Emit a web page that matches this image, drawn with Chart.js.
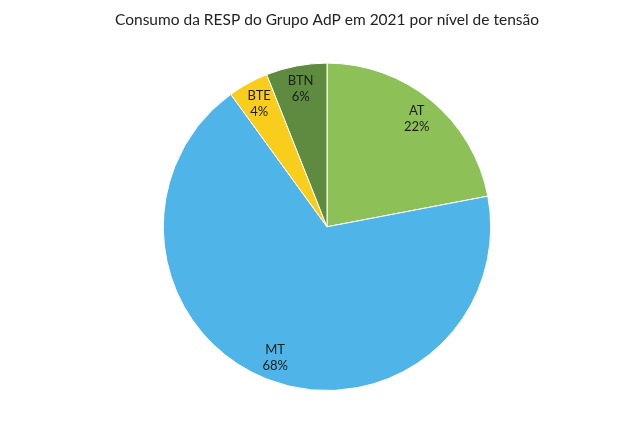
<!DOCTYPE html>
<html>
<head>
<meta charset="utf-8">
<script src="https://cdn.jsdelivr.net/npm/chart.js@4"></script>
<style>
  html, body { margin: 0; padding: 0; background: #fff; }
  #wrap { width: 643px; height: 425px; }
</style>
</head>
<body>
<div id="wrap"><canvas id="pie"></canvas></div>
<script>
// consumo por nível de tensão (%)
const labels = ['AT', 'MT', 'BTE', 'BTN'];
const values = [22, 68, 4, 6];
const colors = ['#8dc157', '#4fb4e8', '#f8cd1c', '#5e8b3f'];

// escreve "nome\nvalor%" dentro de cada fatia
const sliceLabels = {
    id: 'sliceLabels',
    afterDatasetsDraw(chart) {
        const ctx = chart.ctx;
        const meta = chart.getDatasetMeta(0);
        ctx.save();
        ctx.font = '13px Lato';
        ctx.fillStyle = '#1c1c1c';
        ctx.textAlign = 'center';
        ctx.textBaseline = 'middle';
        meta.data.forEach(function (arc, i) {
            const mid = (arc.startAngle + arc.endAngle) / 2;
            const r = arc.outerRadius * 0.86;
            const x = arc.x + Math.cos(mid) * r;
            const y = arc.y + Math.sin(mid) * r;
            ctx.fillText(labels[i], x, y - 8);
            ctx.fillText(values[i] + '%', x, y + 8);
        });
        ctx.restore();
    }
};

new Chart(document.getElementById('pie'), {
    type: 'pie',
    data: {
        labels: labels,
        datasets: [{
            data: values,
            backgroundColor: colors,
            borderColor: '#ffffff',
            borderWidth: 1,
        }],
    },
    options: {
        responsive: true,
        maintainAspectRatio: false,
        animation: false,
        layout: {
            padding: { left: 11, right: 0, top: 0, bottom: 34 },
        },
        plugins: {
            legend: { display: false },
            tooltip: { enabled: false },
            title: {
                display: true,
                text: 'Consumo da RESP do Grupo AdP em 2021 por nível de tensão',
                color: '#222',
                font: { family: 'Lato', size: 15.5, weight: 'normal' },
                padding: { top: 11, bottom: 33 },
            },
        },
    },
    plugins: [sliceLabels],
});
</script>
</body>
</html>
